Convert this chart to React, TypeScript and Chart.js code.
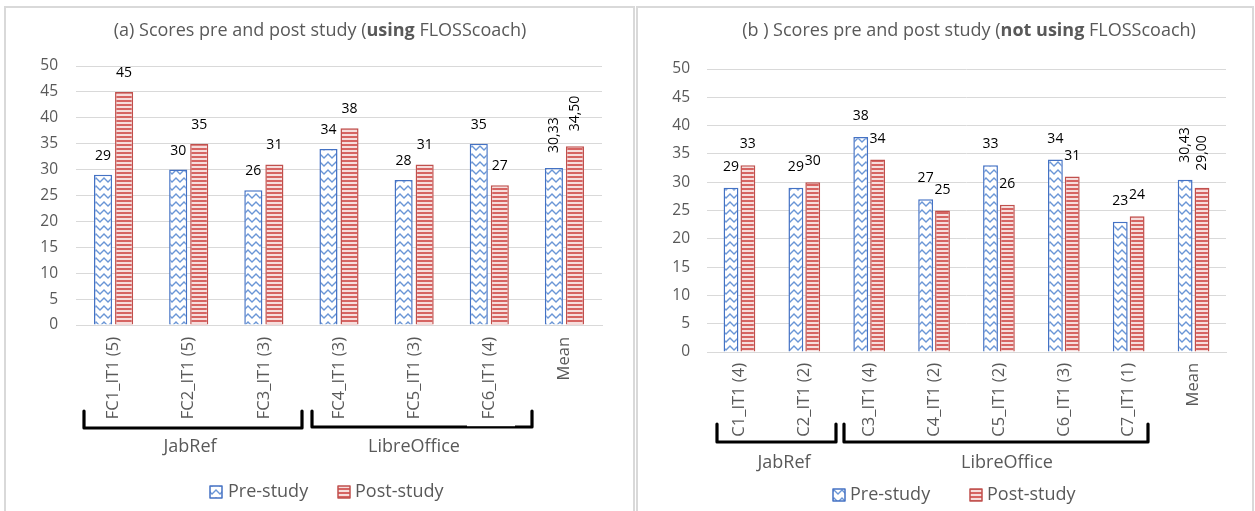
import React, { useEffect, useRef } from 'react';
import { Chart, registerables } from 'chart.js';

Chart.register(...registerables);

// ---------- data ----------
const seriesNames = ['Pre-study', 'Post-study'];

const leftTitle = ['(a) Scores pre and post study (', 'using', ' FLOSScoach)'];
const leftCategories = ['FC1_IT1 (5)', 'FC2_IT1 (5)', 'FC3_IT1 (3)', 'FC4_IT1 (3)', 'FC5_IT1 (3)', 'FC6_IT1 (4)', 'Mean'];
const leftPre = [29, 30, 26, 34, 28, 35, 30.33];
const leftPost = [45, 35, 31, 38, 31, 27, 34.5];
const leftGroups = ['JabRef', 'LibreOffice'];

const rightTitle = ['(b ) Scores pre and post study (', 'not using', ' FLOSScoach)'];
const rightCategories = ['C1_IT1 (4)', 'C2_IT1 (2)', 'C3_IT1 (4)', 'C4_IT1 (2)', 'C5_IT1 (2)', 'C6_IT1 (3)', 'C7_IT1 (1)', 'Mean'];
const rightPre = [29, 29, 38, 27, 33, 34, 23, 30.43];
const rightPost = [33, 30, 34, 25, 26, 31, 24, 29.0];
const rightGroups = ['JabRef', 'LibreOffice'];

const yMin = 0;
const yMax = 50;
const yStep = 5;

// ---------- style ----------
const FONT = "'Open Sans', 'DejaVu Sans', sans-serif";
const GREY = '#595959';
const GRID = '#d9d9d9';
const PRE_BORDER = '#4472C4';
const POST_BORDER = '#C0504D';
const BIG = 18;

function makePrePattern(ctx: CanvasRenderingContext2D) {
  const c = document.createElement('canvas');
  c.width = 8;
  c.height = 8;
  const g = c.getContext('2d')!;
  g.fillStyle = '#ffffff';
  g.fillRect(0, 0, 8, 8);
  g.strokeStyle = '#6A96D6';
  g.lineWidth = 1.3;
  g.beginPath();
  g.moveTo(-1, 1);
  g.lineTo(4, 6);
  g.lineTo(9, 1);
  g.stroke();
  return ctx.createPattern(c, 'repeat')!;
}

function makePostPattern(ctx: CanvasRenderingContext2D) {
  const c = document.createElement('canvas');
  c.width = 4;
  c.height = 4;
  const g = c.getContext('2d')!;
  g.fillStyle = '#F6DEDD';
  g.fillRect(0, 0, 4, 4);
  g.fillStyle = '#D66462';
  g.fillRect(0, 0, 4, 2);
  return ctx.createPattern(c, 'repeat')!;
}

type Decor = {
  offsetX: number;
  title: string[];
  titleCenter: number;
  titleY: number;
  brackets: { x1: number; x2: number; top: number; bottom: number; label: string; lx: number; ly: number }[];
  mask?: { x: number; y: number; w: number; h: number };
  legend: { ix: number; iy: number; tx: number }[];
  labelGap: number;
};

function drawTitle(ctx: CanvasRenderingContext2D, parts: string[], cx: number, y: number) {
  const fonts = [`${BIG}px ${FONT}`, `bold ${BIG}px ${FONT}`, `${BIG}px ${FONT}`];
  let total = 0;
  const widths = parts.map((p, i) => {
    ctx.font = fonts[i];
    const w = ctx.measureText(p).width;
    total += w;
    return w;
  });
  let x = cx - total / 2;
  ctx.fillStyle = GREY;
  ctx.textBaseline = 'middle';
  ctx.textAlign = 'left';
  parts.forEach((p, i) => {
    ctx.font = fonts[i];
    ctx.fillText(p, x, y);
    x += widths[i];
  });
}

function makeDecorPlugin(d: Decor, pre: CanvasPattern, post: CanvasPattern) {
  return {
    id: 'decor',
    afterDatasetsDraw(chart: any) {
      const ctx: CanvasRenderingContext2D = chart.ctx;
      ctx.save();
      ctx.fillStyle = '#000';
      ctx.font = `14px ${FONT}`;
      chart.data.datasets.forEach((ds: any, di: number) => {
        const meta = chart.getDatasetMeta(di);
        meta.data.forEach((bar: any, i: number) => {
          const v = ds.data[i];
          const isMean = i === ds.data.length - 1;
          if (isMean) {
            const txt = v.toFixed(2).replace('.', ',');
            ctx.save();
            ctx.translate(bar.x, bar.y - d.labelGap);
            ctx.rotate(-Math.PI / 2);
            ctx.textAlign = 'left';
            ctx.textBaseline = 'middle';
            ctx.fillText(txt, 0, 0);
            ctx.restore();
          } else {
            ctx.textAlign = 'center';
            ctx.textBaseline = 'alphabetic';
            ctx.fillText(String(v), bar.x, bar.y - d.labelGap);
          }
        });
      });
      ctx.restore();
    },
    afterDraw(chart: any) {
      const ctx: CanvasRenderingContext2D = chart.ctx;
      const o = d.offsetX;
      ctx.save();
      drawTitle(ctx, d.title, d.titleCenter - o, d.titleY);
      // brackets
      ctx.strokeStyle = '#000';
      ctx.lineWidth = 3.2;
      ctx.lineCap = 'round';
      ctx.lineJoin = 'round';
      d.brackets.forEach((b) => {
        ctx.beginPath();
        ctx.moveTo(b.x1 - o, b.top);
        ctx.lineTo(b.x1 - o, b.bottom);
        ctx.lineTo(b.x2 - o, b.bottom);
        ctx.lineTo(b.x2 - o, b.top);
        ctx.stroke();
      });
      if (d.mask) {
        ctx.fillStyle = '#fff';
        ctx.fillRect(d.mask.x - o, d.mask.y, d.mask.w, d.mask.h);
      }
      ctx.fillStyle = GREY;
      ctx.font = `${BIG}px ${FONT}`;
      ctx.textAlign = 'center';
      ctx.textBaseline = 'middle';
      d.brackets.forEach((b) => ctx.fillText(b.label, b.lx - o, b.ly));
      // legend
      d.legend.forEach((l, i) => {
        ctx.fillStyle = i === 0 ? pre : post;
        ctx.fillRect(l.ix - o, l.iy, 12, 12);
        ctx.strokeStyle = i === 0 ? PRE_BORDER : POST_BORDER;
        ctx.lineWidth = 1.5;
        ctx.strokeRect(l.ix - o, l.iy, 12, 12);
        ctx.fillStyle = GREY;
        ctx.font = `${BIG}px ${FONT}`;
        ctx.textAlign = 'left';
        ctx.textBaseline = 'middle';
        ctx.fillText(seriesNames[i], l.tx - o, l.iy + 6);
      });
      ctx.restore();
    },
  };
}

type Cfg = {
  labels: string[];
  pre: number[];
  post: number[];
  width: number;
  yWidth: number;
  yPad: number;
  padTop: number;
  padRight: number;
  xHeight: number;
  xPad: number;
  barPct: number;
  catPct: number;
  decor: Decor;
};

function BarPanel({ cfg, left }: { cfg: Cfg; left: number }) {
  const ref = useRef<HTMLCanvasElement>(null);
  useEffect(() => {
    const canvas = ref.current!;
    const ctx = canvas.getContext('2d')!;
    const pre = makePrePattern(ctx);
    const post = makePostPattern(ctx);
    const chart = new Chart(canvas, {
      type: 'bar',
      data: {
        labels: cfg.labels,
        datasets: [
          {
            label: seriesNames[0],
            data: cfg.pre,
            backgroundColor: pre,
            borderColor: PRE_BORDER,
            borderWidth: 1.5,
            barPercentage: cfg.barPct,
            categoryPercentage: cfg.catPct,
          },
          {
            label: seriesNames[1],
            data: cfg.post,
            backgroundColor: post,
            borderColor: POST_BORDER,
            borderWidth: 1.5,
            barPercentage: cfg.barPct,
            categoryPercentage: cfg.catPct,
          },
        ],
      },
      options: {
        responsive: false,
        animation: false,
        layout: { padding: { left: 0, top: cfg.padTop, right: cfg.padRight, bottom: 0 } },
        plugins: {
          legend: { display: false },
          title: { display: false },
          tooltip: { enabled: false },
        },
        scales: {
          x: {
            grid: { display: false, drawTicks: false },
            border: { color: GRID, width: 1 },
            ticks: {
              autoSkip: false,
              maxRotation: 90,
              minRotation: 90,
              padding: cfg.xPad,
              color: GREY,
              font: { family: FONT, size: 16.5 },
            },
            afterFit: (s: any) => {
              s.height = cfg.xHeight;
            },
          },
          y: {
            min: yMin,
            max: yMax,
            ticks: {
              stepSize: yStep,
              padding: cfg.yPad,
              color: GREY,
              font: { family: FONT, size: 15.5 },
            },
            grid: { color: GRID, drawTicks: false, lineWidth: 1 },
            border: { display: false },
            afterFit: (s: any) => {
              s.width = cfg.yWidth;
            },
          },
        },
      },
      plugins: [makeDecorPlugin(cfg.decor, pre, post) as any],
    } as any);
    return () => chart.destroy();
  }, []);
  return (
    <canvas
      ref={ref}
      width={cfg.width}
      height={511}
      style={{ position: 'absolute', left, top: 0, width: cfg.width, height: 511 }}
    />
  );
}

const leftCfg: Cfg = {
  labels: leftCategories,
  pre: leftPre,
  post: leftPost,
  width: 634,
  yWidth: 76,
  yPad: 18,
  padTop: 66,
  padRight: 32,
  xHeight: 186,
  xPad: 12,
  barPct: 0.86,
  catPct: 0.56,
  decor: {
    offsetX: 0,
    title: leftTitle,
    titleCenter: 320,
    titleY: 31,
    brackets: [
      { x1: 84, x2: 302, top: 411, bottom: 428, label: leftGroups[0], lx: 190, ly: 447 },
      { x1: 312, x2: 532, top: 411, bottom: 427, label: leftGroups[1], lx: 414, ly: 447 },
    ],
    mask: { x: 467, y: 424, w: 48, h: 2.2 },
    legend: [
      { ix: 210, iy: 486, tx: 228 },
      { ix: 338, iy: 486, tx: 355 },
    ],
    labelGap: 15,
  },
};

const rightCfg: Cfg = {
  labels: rightCategories,
  pre: rightPre,
  post: rightPost,
  width: 621,
  yWidth: 73,
  yPad: 17,
  padTop: 69,
  padRight: 29,
  xHeight: 159,
  xPad: 11,
  barPct: 0.88,
  catPct: 0.52,
  decor: {
    offsetX: 634,
    title: rightTitle,
    titleCenter: 969,
    titleY: 31,
    brackets: [
      { x1: 717, x2: 836, top: 424, bottom: 442, label: rightGroups[0], lx: 784, ly: 463 },
      { x1: 844, x2: 1148, top: 424, bottom: 442, label: rightGroups[1], lx: 1007, ly: 463 },
    ],
    legend: [
      { ix: 833, iy: 489, tx: 850 },
      { ix: 970, iy: 489, tx: 987 },
    ],
    labelGap: 17,
  },
};

export default function App() {
  return (
    <div style={{ position: 'absolute', left: 0, top: 0, width: 1255, height: 511, background: '#fff', overflow: 'hidden' }}>
      <div style={{ position: 'absolute', left: 4, top: 6, width: 627, height: 510, border: `2px solid ${GRID}`, boxSizing: 'content-box' }} />
      <div style={{ position: 'absolute', left: 636, top: 6, width: 614, height: 510, border: `2px solid ${GRID}`, boxSizing: 'content-box' }} />
      <BarPanel cfg={leftCfg} left={0} />
      <BarPanel cfg={rightCfg} left={634} />
    </div>
  );
}
